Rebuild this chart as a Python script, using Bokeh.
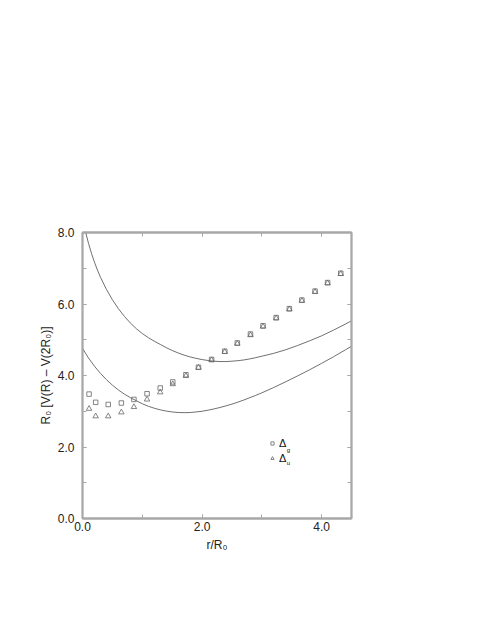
from bokeh.plotting import figure
from bokeh.embed import file_html
from bokeh.resources import INLINE
from bokeh.models import (Range1d, LinearAxis, SingleIntervalTicker, PrintfTickFormatter,
                          CustomJSTickFormatter, Legend, LegendItem, Label)

# ---- data ----
r_pts = [0.11, 0.22, 0.43, 0.65, 0.86, 1.08, 1.30, 1.51, 1.73, 1.94, 2.16,
         2.38, 2.59, 2.81, 3.02, 3.24, 3.46, 3.67, 3.89, 4.10, 4.32]
delta_g = [3.48, 3.25, 3.19, 3.23, 3.33, 3.49, 3.65, 3.82, 4.02, 4.23, 4.45,
           4.68, 4.91, 5.16, 5.39, 5.62, 5.87, 6.11, 6.36, 6.60, 6.86]
delta_u = [3.07, 2.86, 2.86, 2.97, 3.12, 3.33, 3.53, 3.76, 3.99, 4.22, 4.43,
           4.66, 4.89, 5.13, 5.37, 5.60, 5.85, 6.09, 6.34, 6.58, 6.84]

upper_r = [0.00, 0.05, 0.10, 0.15, 0.20, 0.25, 0.30, 0.40, 0.50, 0.60, 0.70,
           0.80, 0.90, 1.00, 1.10, 1.20, 1.30, 1.40, 1.50, 1.60, 1.70, 1.80,
           1.90, 2.00, 2.10, 2.20, 2.30, 2.40, 2.50, 2.60, 2.70, 2.80, 2.90,
           3.00, 3.20, 3.40, 3.60, 3.80, 4.00, 4.20, 4.40, 4.50]
upper_v = [8.38, 8.02, 7.70, 7.42, 7.17, 6.95, 6.75, 6.41, 6.12, 5.87, 5.655,
           5.47, 5.31, 5.175, 5.06, 4.96, 4.87, 4.78, 4.70, 4.63, 4.57, 4.52,
           4.48, 4.445, 4.42, 4.40, 4.39, 4.39, 4.40, 4.415, 4.435, 4.465, 4.50,
           4.54, 4.62, 4.72, 4.84, 4.97, 5.11, 5.27, 5.44, 5.53]

lower_r = [0.00, 0.10, 0.20, 0.30, 0.40, 0.50, 0.60, 0.70, 0.80, 0.90, 1.00,
           1.10, 1.20, 1.30, 1.40, 1.50, 1.60, 1.70, 1.80, 1.90, 2.00, 2.10,
           2.20, 2.30, 2.40, 2.50, 2.60, 2.70, 2.80, 2.90, 3.00, 3.20, 3.40,
           3.60, 3.80, 4.00, 4.20, 4.40, 4.50]
lower_v = [4.76, 4.49, 4.26, 4.06, 3.885, 3.73, 3.595, 3.48, 3.38, 3.295, 3.21,
           3.14, 3.085, 3.04, 3.005, 2.98, 2.965, 2.96, 2.965, 2.98, 3.00, 3.03,
           3.065, 3.105, 3.15, 3.20, 3.255, 3.315, 3.38, 3.445, 3.515, 3.665, 3.825,
           3.99, 4.16, 4.34, 4.525, 4.72, 4.82]

x_ticks_interval = 2.0
y_ticks_interval = 2.0

FONT = "Liberation Sans"
AX = "#a8a8a8"
TXT = "#222222"
CURVE = "#707070"
MK = "#666666"

p = figure(frame_width=269, frame_height=286,
           min_border_left=82, min_border_top=232, min_border_right=116, min_border_bottom=91,
           x_range=Range1d(0, 4.5), y_range=Range1d(0, 8),
           output_backend="svg", toolbar_location=None, x_axis_type=None, y_axis_type=None)
p.outline_line_color = AX
p.outline_line_width = 1.8
p.xgrid.visible = False
p.ygrid.visible = False
p.background_fill_color = "white"
p.border_fill_color = "white"


def make_axis(interval, labels, label_text=""):
    ax = LinearAxis(ticker=SingleIntervalTicker(interval=interval, num_minor_ticks=2))
    ax.axis_line_color = AX
    ax.axis_line_width = 1.8
    ax.major_tick_line_color = AX
    ax.minor_tick_line_color = AX
    ax.major_tick_in = 4
    ax.major_tick_out = 0
    ax.minor_tick_in = 4
    ax.minor_tick_out = 0
    ax.major_tick_line_width = 1
    ax.minor_tick_line_width = 1
    if labels:
        ax.formatter = PrintfTickFormatter(format="%.1f")
        ax.major_label_text_font = FONT
        ax.major_label_text_font_size = "12px"
        ax.major_label_text_color = TXT
        ax.axis_label = label_text
        ax.axis_label_text_font = FONT
        ax.axis_label_text_font_size = "12px"
        ax.axis_label_text_font_style = "normal"
        ax.axis_label_text_color = TXT
    else:
        ax.formatter = CustomJSTickFormatter(code="return ''")
    return ax


xb = make_axis(x_ticks_interval, True, "r/R\u2080")
xb.major_label_standoff = 3
xb.axis_label_standoff = 4
yl = make_axis(y_ticks_interval, True, "R\u2080 [V(R) \u2013 V(2R\u2080)]")
yl.major_label_standoff = 8
yl.axis_label_standoff = 2
xt = make_axis(x_ticks_interval, False)
yr = make_axis(y_ticks_interval, False)
p.add_layout(xb, "below")
p.add_layout(yl, "left")
p.add_layout(xt, "above")
p.add_layout(yr, "right")

p.line(upper_r, upper_v, line_color=CURVE, line_width=1)
p.line(lower_r, lower_v, line_color=CURVE, line_width=1)

r_sq = p.scatter(r_pts, delta_g, marker="square", size=4.5, fill_color=None,
                 line_color=MK, line_width=0.8)
r_tr = p.scatter(r_pts, delta_u, marker="triangle", size=5.5, fill_color=None,
                 line_color=MK, line_width=0.8)

legend = Legend(items=[LegendItem(label="\u0394", renderers=[r_sq]),
                       LegendItem(label="\u0394", renderers=[r_tr])],
                location=(186, 53), margin=0, padding=0, spacing=0,
                glyph_width=8, glyph_height=8, label_height=15, label_standoff=3,
                label_text_font=FONT, label_text_font_size="11px", label_text_color="#111111",
                border_line_alpha=0, background_fill_alpha=0)
p.add_layout(legend)

sub_font = "6px"
p.add_layout(Label(x=3.417, y=1.92, text="g", text_font=FONT, text_font_size=sub_font,
                   text_color="#111111", text_baseline="middle", text_align="left"))
p.add_layout(Label(x=3.417, y=1.55, text="u", text_font=FONT, text_font_size=sub_font,
                   text_color="#111111", text_baseline="middle", text_align="left"))

open("out.html", "w").write(file_html(p, INLINE))
